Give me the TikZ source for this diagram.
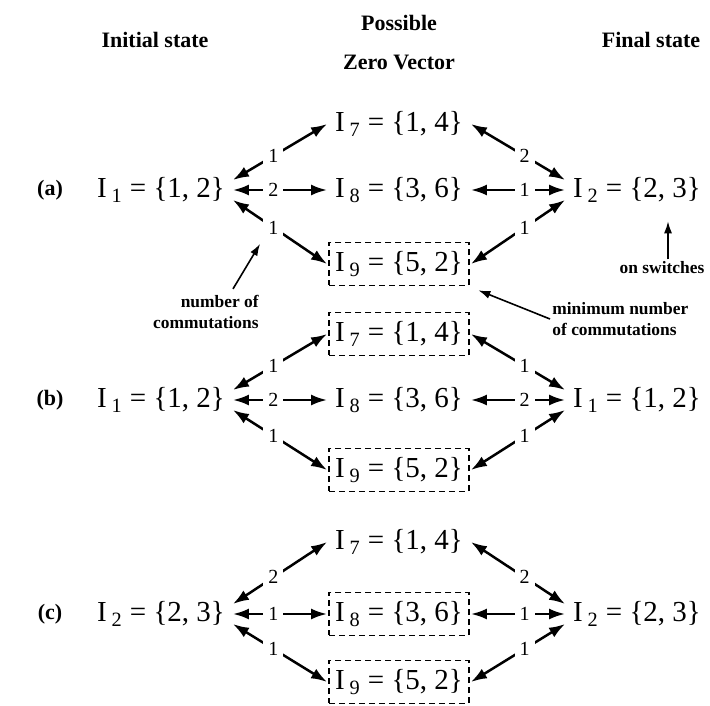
\documentclass[tikz,border=0pt]{standalone}
\usepackage{fontspec}
\setmainfont{Liberation Serif}
\usetikzlibrary{arrows.meta}

\newcommand{\Iset}[2]{I\,\textsubscript{#1} = \{#2\}}

\tikzset{
  state/.style={font=\fontsize{14.5}{17}\selectfont, inner xsep=3pt, inner ysep=4.5pt, outer sep=1pt},
  minbox/.style={state, draw, dash pattern=on 3pt off 2pt, line width=0.75pt},
  head/.style={font=\fontsize{11}{13}\selectfont\bfseries},
  note/.style={font=\fontsize{8.7}{10.5}\selectfont\bfseries, inner sep=1pt},
  num/.style={font=\fontsize{10}{11}\selectfont, fill=white, inner sep=2.5pt, pos=0.43},
  biarrow/.style={{Latex[length=8pt,width=5.5pt]}-{Latex[length=8pt,width=5.5pt]}, line width=1.25pt},
  pointer/.style={-{Latex[length=6pt,width=4pt]}, line width=0.8pt},
}

\begin{document}
\begin{tikzpicture}[x=0.5pt,y=-0.5pt]
\useasboundingbox (0,0) rectangle (710,705);

% column heads
\node[head] (hinit) at (155,40) {Initial state};
\node[head] (hposs) at (399,23) {Possible};
\node[head] (hzero) at (399,62) {Zero Vector};
\node[head] (hfinal) at (651,40) {Final state};

% (a)
\node[head] (ra) at (50,190) {(a)};
\node[state] (aI) at (161,190) {\Iset{1}{1, 2}};
\node[state] (a7) at (399,124) {\Iset{7}{1, 4}};
\node[state] (a8) at (399,190) {\Iset{8}{3, 6}};
\node[minbox] (a9) at (399,264) {\Iset{9}{5, 2}};
\node[state] (aF) at (637,190) {\Iset{2}{2, 3}};
\draw[biarrow] ([yshift=5pt]aI.east) -- node[num] {1} (a7.west);
\draw[biarrow] (aI.east) -- node[num] {2} (a8.west);
\draw[biarrow] ([yshift=-5pt]aI.east) -- node[num] (na9) {1} (a9.west);
\draw[biarrow] ([yshift=5pt]aF.west) -- node[num] {2} (a7.east);
\draw[biarrow] (aF.west) -- node[num] {1} (a8.east);
\draw[biarrow] ([yshift=-5pt]aF.west) -- node[num] {1} (a9.east);

% notes
\node[note, align=right, anchor=east] (ncom) at (261,312) {number of\\commutations};
\draw[pointer, shorten >=2pt] ([xshift=-14pt,yshift=2pt]ncom.north east) -- (na9.south west);
\node[note, align=left, anchor=west] (mcom) at (550,319) {minimum number\\of commutations};
\draw[pointer, shorten >=4pt] (mcom.west) -- (a9.south east);
\node[note] (onsw) at (662,268) {on switches};
\draw[pointer, shorten >=4pt] ([xshift=3pt]onsw.north) -- ([xshift=3pt]onsw.north |- aF.south);

% (b)
\node[head] (rb) at (50,400) {(b)};
\node[state] (bI) at (161,400) {\Iset{1}{1, 2}};
\node[minbox] (b7) at (399,334) {\Iset{7}{1, 4}};
\node[state] (b8) at (399,400) {\Iset{8}{3, 6}};
\node[minbox] (b9) at (399,470) {\Iset{9}{5, 2}};
\node[state] (bF) at (637,400) {\Iset{1}{1, 2}};
\draw[biarrow] ([yshift=5pt]bI.east) -- node[num] {1} (b7.west);
\draw[biarrow] (bI.east) -- node[num] {2} (b8.west);
\draw[biarrow] ([yshift=-5pt]bI.east) -- node[num] {1} (b9.west);
\draw[biarrow] ([yshift=5pt]bF.west) -- node[num] {1} (b7.east);
\draw[biarrow] (bF.west) -- node[num] {2} (b8.east);
\draw[biarrow] ([yshift=-5pt]bF.west) -- node[num] {1} (b9.east);

% (c)
\node[head] (rc) at (50,614) {(c)};
\node[state] (cI) at (161,614) {\Iset{2}{2, 3}};
\node[state] (c7) at (399,542) {\Iset{7}{1, 4}};
\node[minbox] (c8) at (399,614) {\Iset{8}{3, 6}};
\node[minbox] (c9) at (399,682) {\Iset{9}{5, 2}};
\node[state] (cF) at (637,614) {\Iset{2}{2, 3}};
\draw[biarrow] ([yshift=5pt]cI.east) -- node[num] {2} (c7.west);
\draw[biarrow] (cI.east) -- node[num] {1} (c8.west);
\draw[biarrow] ([yshift=-5pt]cI.east) -- node[num] {1} (c9.west);
\draw[biarrow] ([yshift=5pt]cF.west) -- node[num] {2} (c7.east);
\draw[biarrow] (cF.west) -- node[num] {1} (c8.east);
\draw[biarrow] ([yshift=-5pt]cF.west) -- node[num] {1} (c9.east);
\end{tikzpicture}
\end{document}
